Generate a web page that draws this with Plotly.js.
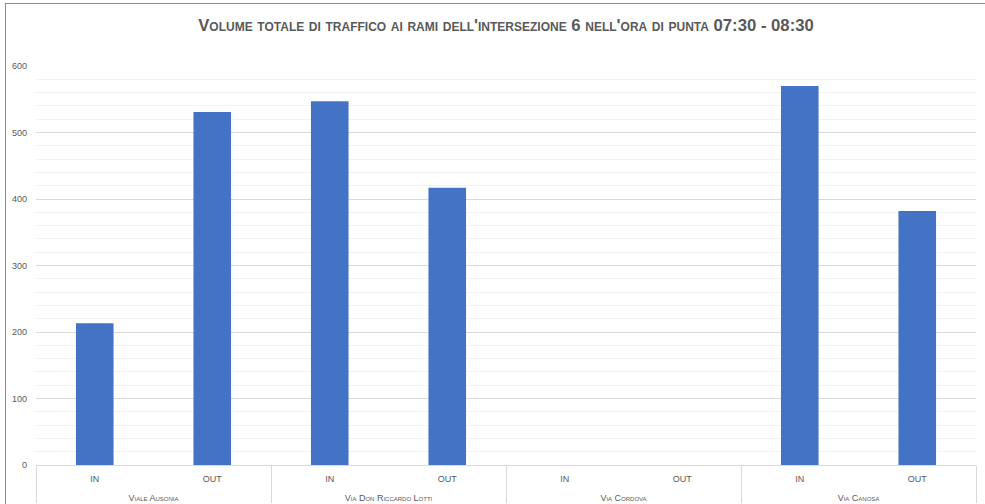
<!DOCTYPE html>
<html>
<head>
<meta charset="utf-8">
<script src="https://cdn.plot.ly/plotly-3.0.1.min.js"></script>
<style>
html,body{margin:0;padding:0;background:#fff;overflow:hidden;}
#chart{width:985px;height:504px;position:absolute;left:0;top:0;}
#frame{position:absolute;left:5px;top:3px;width:990px;height:510px;border:1px solid #8c8c8c;pointer-events:none;box-sizing:border-box;}
</style>
</head>
<body>
<div id="chart"></div>
<div id="frame"></div>
<script>
const streets = ["Viale Ausonia", "Viale Ausonia", "Via Don Riccardo Lotti", "Via Don Riccardo Lotti", "Via Cordova", "Via Cordova", "Via Canosa", "Via Canosa"];
const directions = ["IN", "OUT", "IN", "OUT", "IN", "OUT", "IN", "OUT"];
const volumes = [213, 531, 547, 417, 0, 0, 570, 382];
const yTicks = [0, 100, 200, 300, 400, 500, 600];
const titleText = "Volume totale di traffico ai rami dell'intersezione 6 nell'ora di punta 07:30 - 08:30";

const font = "'Liberation Sans', Arial, sans-serif";

// extra blank line under the direction labels pushes the street row down
const directionLabels = directions.map(d => d + "<br>\u00a0");

const trace = {
  type: 'bar',
  x: [streets, directionLabels],
  y: volumes,
  marker: {color: '#4472C4'},
  hoverinfo: 'skip'
};

const layout = {
  width: 985,
  height: 504,
  margin: {l: 36, r: 9, t: 66, b: 39, pad: 0},
  paper_bgcolor: '#ffffff',
  plot_bgcolor: '#ffffff',
  showlegend: false,
  bargap: 0.68,
  title: {
    text: '<b>' + titleText + '</b>',
    font: {family: font, size: 16.7, color: '#595959', variant: 'small-caps'},
    x: 0.5, xanchor: 'center', y: 0.95, yanchor: 'middle', xref: 'paper'
  },
  xaxis: {
    type: 'multicategory',
    showline: true,
    linecolor: '#d9d9d9',
    linewidth: 1,
    ticks: '',
    showdividers: true,
    dividercolor: '#d9d9d9',
    dividerwidth: 1,
    ticklabelstandoff: 5,
    tickfont: {family: font, size: 9, color: '#595959', variant: 'small-caps'},
    fixedrange: true
  },
  yaxis: {
    range: [0, 600],
    tickvals: yTicks,
    ticktext: yTicks.map(String),
    showgrid: true,
    gridcolor: '#d9d9d9',
    gridwidth: 1,
    zeroline: false,
    showline: false,
    ticks: '',
    ticklabelstandoff: 8,
    tickfont: {family: font, size: 9, color: '#595959'},
    minor: {dtick: 20, showgrid: true, gridcolor: '#f2f2f2', gridwidth: 1},
    fixedrange: true
  }
};

Plotly.newPlot('chart', [trace], layout, {displayModeBar: false, staticPlot: true});
</script>
</body>
</html>
